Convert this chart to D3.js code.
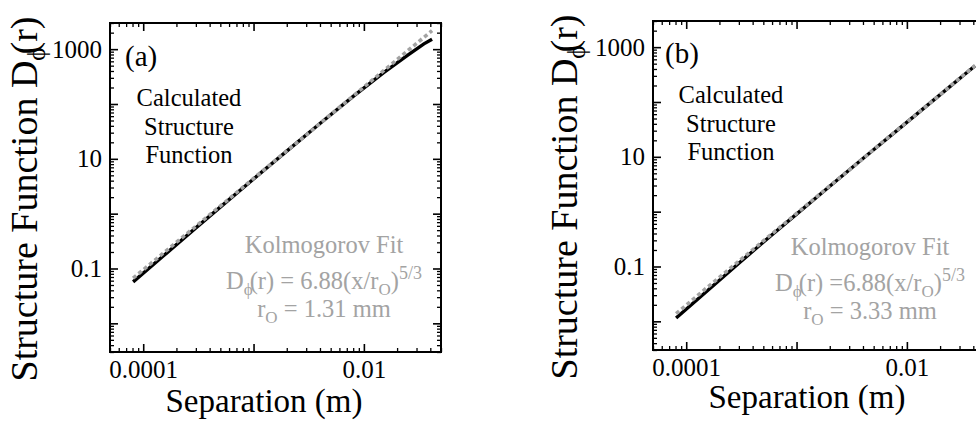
<!DOCTYPE html>
<html>
<head>
<meta charset="utf-8">
<script src="https://cdn.jsdelivr.net/npm/d3@7"></script>
<style>
  body { margin: 0; background: #fff; }
  svg { display: block; font-family: "Liberation Serif", "Times New Roman", serif; }
</style>
</head>
<body>
<div id="chart"></div>
<script>
// separation (m)
const separation = [8.1e-5, 1.5e-4, 3e-4, 6e-4, 1e-3, 2e-3, 4e-3, 8e-3, 1.5e-2, 2.5e-2, 3.5e-2, 4.15e-2];
// panel (a)
const calcA = [0.057, 0.165, 0.55, 1.80, 4.3, 13.8, 44, 138, 370, 780, 1250, 1520];
const fitA = [0.0665, 0.186, 0.59, 1.87, 4.39, 13.9, 44.2, 140, 400, 937, 1643, 2182];
// panel (b)
const calcB = [0.0115, 0.034, 0.115, 0.38, 0.90, 2.9, 9.3, 29.5, 84, 197, 345, 458];
const fitB = [0.0138, 0.0393, 0.125, 0.396, 0.927, 2.94, 9.34, 29.7, 84.6, 198, 347, 461];

const xDomain = [5e-5, 0.05];
const yDomain = [0.003, 3000];
const xTickLabels = [1e-4, 1e-2];
const yTickLabels = [0.1, 10, 1000];

const GREY = '#a3a3a3';

class StructurePanel {
  constructor(svg, opt) {
    this.svg = svg;
    this.opt = opt;
    this.g = null;
    this.x = null;
    this.y = null;
  }

  init() {
    const o = this.opt;
    this.x = d3.scaleLog().domain(xDomain).range([o.left, o.left + o.width]);
    this.y = d3.scaleLog().domain(yDomain).range([o.top + o.height, o.top]);
    this.g = this.svg.append('g');
    return this;
  }

  render() {
    this.renderAxes();
    this.renderLines();
    this.renderText();
    return this;
  }

  isPow10(v) {
    const e = Math.log10(v);
    return Math.abs(e - Math.round(e)) < 1e-9;
  }

  renderAxes() {
    const o = this.opt, x = this.x, y = this.y;
    const xMajor = x.ticks().filter(d => this.isPow10(d));
    const xMinor = x.ticks().filter(d => !this.isPow10(d));
    const yMajor = y.ticks().filter(d => this.isPow10(d));
    const yMinor = y.ticks().filter(d => !this.isPow10(d));
    const has = (arr, d) => arr.some(v => Math.abs(v - d) / d < 1e-9);
    const bottom = o.top + o.height, right = o.left + o.width;

    const axes = [
      [d3.axisBottom(x), `translate(0,${bottom})`, xMajor, xMinor, d => has(xTickLabels, d) ? String(d) : ''],
      [d3.axisTop(x), `translate(0,${o.top})`, xMajor, xMinor, () => ''],
      [d3.axisLeft(y), `translate(${o.left},0)`, yMajor, yMinor, d => has(yTickLabels, d) ? String(d) : ''],
      [d3.axisRight(y), `translate(${right},0)`, yMajor, yMinor, () => '']
    ];
    axes.forEach(([axis, tr, major, minor, fmt]) => {
      // minor ticks
      this.g.append('g').attr('transform', tr)
        .call(axis.tickValues(minor).tickSize(-4).tickFormat(() => ''))
        .call(s => s.select('.domain').remove())
        .selectAll('line').attr('stroke-width', 1.3);
      // major ticks + labels
      const ag = this.g.append('g').attr('transform', tr)
        .call(axis.tickValues(major).tickSize(-8).tickPadding(o.axisPad).tickFormat(fmt))
        .call(s => s.select('.domain').remove())
        .attr('font-family', null)
        .attr('font-size', 25);
      ag.selectAll('line').attr('stroke-width', 1.6);
      ag.selectAll('text').attr('fill', '#000');
    });

    this.g.append('rect')
      .attr('x', o.left).attr('y', o.top)
      .attr('width', o.width).attr('height', o.height)
      .attr('fill', 'none').attr('stroke', '#000').attr('stroke-width', 2);
  }

  renderLines() {
    const o = this.opt;
    const line = d3.line()
      .x((d, i) => this.x(separation[i]))
      .y(d => this.y(d));
    this.g.append('path')
      .attr('d', line(o.calc))
      .attr('fill', 'none').attr('stroke', '#000').attr('stroke-width', 3.4);
    this.g.append('path')
      .attr('d', line(o.fit))
      .attr('fill', 'none').attr('stroke', GREY).attr('stroke-width', 3.6)
      .attr('stroke-dasharray', '4,3');
  }

  renderText() {
    const o = this.opt, t = o.text;
    // panel tag
    this.g.append('text').attr('x', t.tag[0]).attr('y', t.tag[1])
      .attr('font-size', 29).text(o.tag);

    // calculated structure function note
    this.g.append('g').selectAll('text')
      .data(['Calculated', 'Structure', 'Function'])
      .join('text')
      .attr('x', t.calc[0]).attr('y', (d, i) => t.calc[1] + i * 28.5)
      .attr('text-anchor', 'middle').attr('font-size', 24.5)
      .text(d => d);

    // kolmogorov fit note
    const k = this.g.append('g').attr('fill', GREY).attr('font-size', 24.5).attr('text-anchor', 'middle');
    k.append('text').attr('x', t.fit[0]).attr('y', t.fit[1]).text('Kolmogorov Fit');
    const eq = k.append('text').attr('x', t.fit[0]).attr('y', t.fit[1] + 36);
    eq.append('tspan').text('D');
    eq.append('tspan').attr('font-size', 17).attr('dy', 6).text('ϕ');
    eq.append('tspan').attr('dy', -6).attr('dx', -3).text(o.eqText);
    eq.append('tspan').attr('font-size', 17).attr('dy', 6).text('O');
    eq.append('tspan').attr('dy', -6).text(')');
    eq.append('tspan').attr('font-size', 18).attr('dy', -10).text('5/3');
    const r0 = k.append('text').attr('x', t.fit[0]).attr('y', t.fit[1] + 64);
    r0.append('tspan').text('r');
    r0.append('tspan').attr('font-size', 17).attr('dy', 6).text('O');
    r0.append('tspan').attr('dy', -6).text(` = ${o.r0} mm`);

    // axis titles
    this.g.append('text').attr('x', t.xTitle[0]).attr('y', t.xTitle[1])
      .attr('text-anchor', 'middle').attr('font-size', 33)
      .text('Separation (m)');
    const yt = this.g.append('text')
      .attr('transform', `translate(${t.yTitle[0]},${t.yTitle[1]}) rotate(-90)`)
      .attr('text-anchor', 'middle').attr('font-size', 38);
    yt.append('tspan').text('Structure Function D');
    yt.append('tspan').attr('font-size', 25).attr('dy', 8).text('ϕ');
    yt.append('tspan').attr('dy', -8).attr('dx', -7).text('(r)');
  }
}

const svg = d3.select('#chart').append('svg')
  .attr('width', 976).attr('height', 421)
  .style('background-color', '#fff');

new StructurePanel(svg, {
  left: 110, top: 23, width: 331, height: 329, axisPad: 8,
  calc: calcA, fit: fitA, tag: '(a)', r0: '1.31', eqText: '(r) = 6.88(x/r',
  text: { tag: [125, 66], calc: [189, 106], fit: [324, 253], xTitle: [264, 412], yTitle: [37, 199] }
}).init().render();

new StructurePanel(svg, {
  left: 653, top: 21, width: 331, height: 329, axisPad: 8,
  calc: calcB, fit: fitB, tag: '(b)', r0: '3.33', eqText: '(r) =6.88(x/r',
  text: { tag: [665, 63], calc: [731, 103], fit: [870, 255], xTitle: [807, 408], yTitle: [577, 197] }
}).init().render();
</script>
</body>
</html>
